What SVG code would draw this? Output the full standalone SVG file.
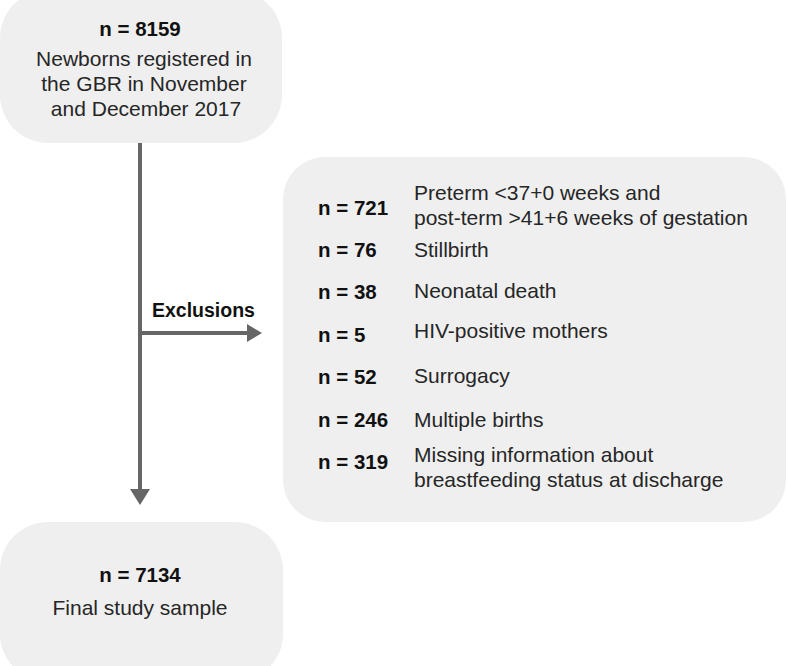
<svg xmlns="http://www.w3.org/2000/svg" width="787" height="666" viewBox="0 0 787 666">
<defs>
<style>
.box{fill:#efefef;}
.b{font-family:"Liberation Sans",Arial,sans-serif;font-weight:bold;font-size:20.5px;fill:#111;}
.r{font-family:"Liberation Sans",Arial,sans-serif;font-size:21px;fill:#262626;}
.line{stroke:#666;stroke-width:4;fill:none;}
.head{fill:#666;}
</style>
</defs>
<rect width="787" height="666" fill="#fff"/>
<g id="top">
<rect class="box" x="0" y="-10" width="282" height="153" rx="48" ry="48"/>
<text class="b" x="140" y="36" text-anchor="middle">n = 8159</text>
<text class="r" x="144" y="66" text-anchor="middle">Newborns registered in</text>
<text class="r" x="144" y="91" text-anchor="middle">the GBR in November</text>
<text class="r" x="146" y="116" text-anchor="middle">and December 2017</text>
</g>
<g id="exclusions">
<rect class="box" x="283" y="157" width="503" height="365" rx="42" ry="42"/>
<text class="b" x="318" y="215">n = 721</text>
<text class="r" x="414" y="200">Preterm &lt;37+0 weeks and</text>
<text class="r" x="414" y="225">post-term &gt;41+6 weeks of gestation</text>
<text class="b" x="318" y="257">n = 76</text>
<text class="r" x="414" y="257">Stillbirth</text>
<text class="b" x="318" y="299">n = 38</text>
<text class="r" x="414" y="298">Neonatal death</text>
<text class="b" x="318" y="342">n = 5</text>
<text class="r" x="414" y="338">HIV-positive mothers</text>
<text class="b" x="318" y="384">n = 52</text>
<text class="r" x="414" y="383">Surrogacy</text>
<text class="b" x="318" y="427">n = 246</text>
<text class="r" x="414" y="427">Multiple births</text>
<text class="b" x="318" y="469">n = 319</text>
<text class="r" x="414" y="462">Missing information about</text>
<text class="r" x="414" y="487">breastfeeding status at discharge</text>
</g>
<g id="final">
<rect class="box" x="0" y="522" width="283" height="160" rx="48" ry="48"/>
<text class="b" x="140" y="582" text-anchor="middle">n = 7134</text>
<text class="r" x="140" y="615" text-anchor="middle">Final study sample</text>
</g>
<g id="connectors">
<line class="line" x1="140" y1="143" x2="140" y2="491"/>
<polygon class="head" points="130,489 150,489 140,505"/>
<line class="line" x1="140" y1="333" x2="249" y2="333"/>
<polygon class="head" points="247,324 247,342 262,333"/>
<text class="b" x="152" y="317" style="font-size:19.5px">Exclusions</text>
</g>
</svg>
